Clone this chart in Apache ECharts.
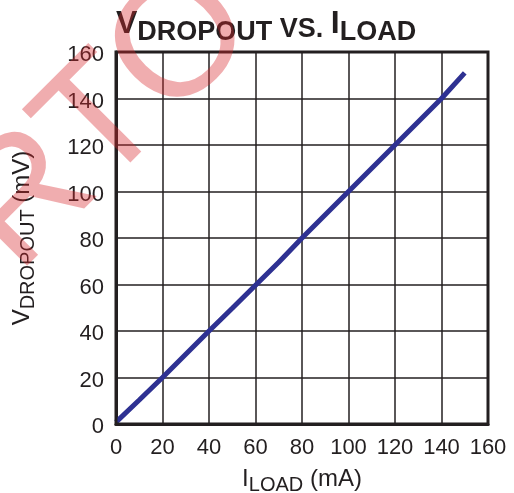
<!DOCTYPE html>
<html lang="en">
<head>
    <meta charset="UTF-8">
    <title>VDROPOUT vs. ILOAD</title>
    <script type="text/javascript" src="https://cdn.jsdelivr.net/npm/echarts@6/dist/echarts.min.js"></script>
    <style type="text/css">
        body { margin: 0; background: #ffffff; }
    </style>
</head>
<body>
<div id="main" style="width: 514px;height:493px;"></div>
<script type="text/javascript">
    // data
    var iLoad = [0, 10, 20, 30, 40, 50, 60, 70, 80, 90, 100, 110, 120, 130, 140, 150];
    var vDropout = [0.8, 10.3, 20, 30, 40, 49.8, 59.7, 69.6, 80, 90, 100, 110, 120, 130, 140, 151];
    var xTicks = [0, 20, 40, 60, 80, 100, 120, 140, 160];
    var yTicks = [0, 20, 40, 60, 80, 100, 120, 140, 160];

    var lineData = [];
    for (var i = 0; i < iLoad.length; i++) {
        lineData.push([iLoad[i], vDropout[i]]);
    }

    var txt = '#231f20';
    var font = 'Liberation Sans, Arial, sans-serif';

    // rich styles: main letters + lowered subscript
    var nameRich = {
        a: { fontSize: 24, color: txt, fontFamily: font, verticalAlign: 'top' },
        b: { fontSize: 20, color: txt, fontFamily: font, verticalAlign: 'top', padding: [8, 0, 0, 0] }
    };

    var chart = echarts.init(document.getElementById('main'));
    chart.setOption({
        animation: false,
        title: {
            text: '{a|V}{b|DROPOUT}{c| VS. }{a|I}{b|LOAD}',
            left: 111,
            top: 3,
            textStyle: {
                rich: {
                    a: { fontSize: 32, fontWeight: 'bold', color: txt, fontFamily: font, verticalAlign: 'top' },
                    b: { fontSize: 27, fontWeight: 'bold', color: txt, fontFamily: font, verticalAlign: 'top', padding: [11, 0, 0, 0] },
                    c: { fontSize: 27, fontWeight: 'bold', color: txt, fontFamily: font, verticalAlign: 'top', padding: [8, 0, 0, 0] }
                }
            }
        },
        grid: { left: 116, top: 52, width: 372, height: 372, outerBoundsMode: 'none' },
        xAxis: {
            type: 'value', min: xTicks[0], max: xTicks[xTicks.length - 1], interval: 20,
            name: '{a|I}{b|LOAD}{a| (mA)}',
            nameLocation: 'middle', nameGap: 43,
            nameTextStyle: { rich: nameRich },
            axisLine: { show: true, lineStyle: { color: txt, width: 3 } },
            axisTick: { show: false },
            axisLabel: { fontSize: 22, color: txt, fontFamily: font, margin: 13 },
            splitLine: { show: true, lineStyle: { color: txt, width: 1.5 } }
        },
        yAxis: {
            type: 'value', min: yTicks[0], max: yTicks[yTicks.length - 1], interval: 20,
            name: '{a|V}{b|DROPOUT}{a| (mV)}',
            nameLocation: 'middle', nameGap: 78, nameRotate: 90,
            nameTextStyle: { rich: nameRich },
            axisLine: { show: true, lineStyle: { color: txt, width: 3 } },
            axisTick: { show: false },
            axisLabel: {
                margin: 12,
                formatter: '{n|{value}}',
                rich: { n: { fontSize: 22, color: txt, fontFamily: font, padding: [6, 0, 0, 0] } }
            },
            splitLine: { show: true, lineStyle: { color: txt, width: 1.5 } }
        },
        graphic: [
            {
                // right and top border of the plot frame
                type: 'rect', z: 10,
                shape: { x: 116, y: 52, width: 372, height: 372 },
                style: { fill: 'none', stroke: txt, lineWidth: 3 }
            },
            {
                // watermark
                type: 'text', z: 100,
                x: 22, y: 206, rotation: Math.PI / 4,
                style: {
                    text: 'PORTO',
                    font: '166px Liberation Sans, Arial, sans-serif',
                    textAlign: 'center', textVerticalAlign: 'middle',
                    fill: 'rgba(215, 40, 45, 0.38)'
                }
            }
        ],
        series: [{
            type: 'line',
            data: lineData,
            showSymbol: false,
            lineStyle: { color: '#2e3192', width: 5 },
            z: 5
        }]
    });
</script>
</body>
</html>
